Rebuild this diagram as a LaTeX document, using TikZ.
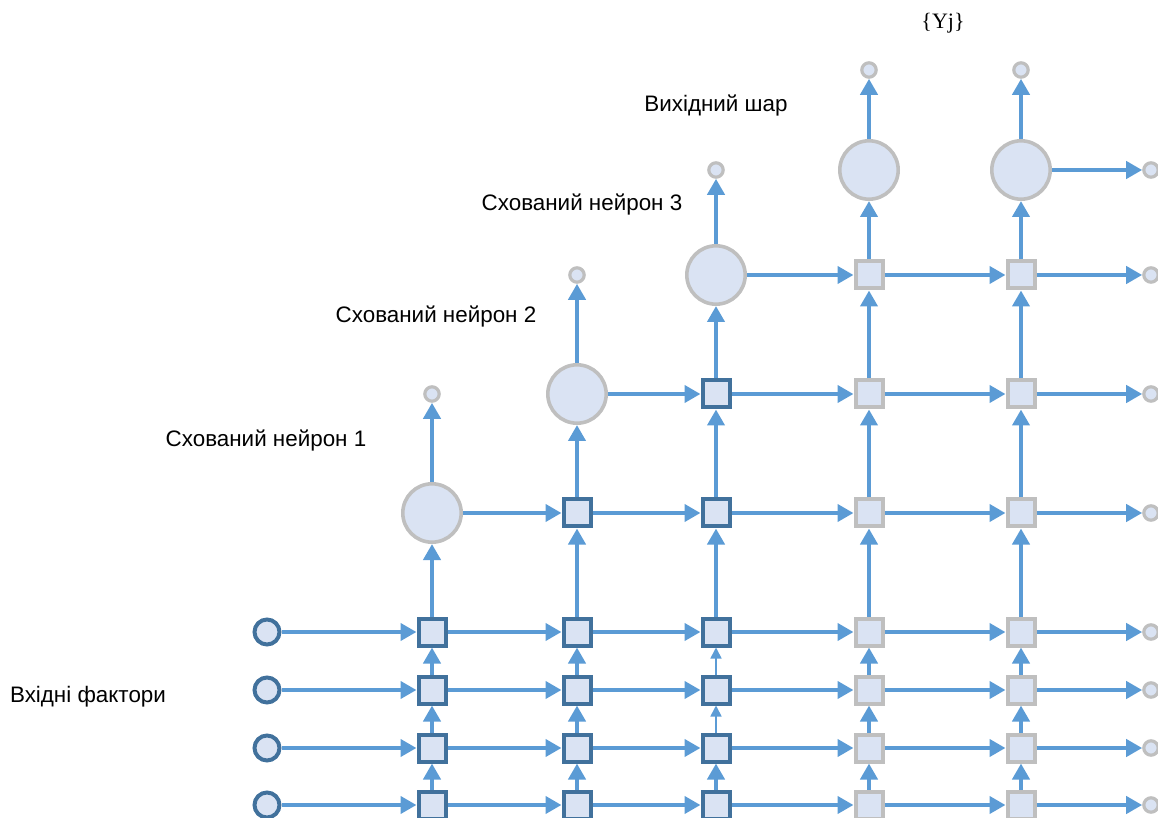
\documentclass[tikz,border=0pt]{standalone}
\usepackage{fontspec}
\setmainfont{Liberation Sans}
\newfontfamily\serifyj{Liberation Serif}
\usetikzlibrary{arrows.meta}
\definecolor{linkblue}{RGB}{91,155,213}
\definecolor{cellfill}{RGB}{218,227,243}
\definecolor{darkedge}{RGB}{65,113,156}
\definecolor{grayedge}{RGB}{191,191,191}
\tikzset{
  link/.style={-{Triangle[length=8pt,width=8.5pt]}, line width=2.2pt, draw=linkblue},
  thinlink/.style={-{Triangle[length=5.5pt,width=5.5pt]}, line width=0.8pt, draw=linkblue},
  inputnode/.style={circle, draw=darkedge, line width=2pt, fill=cellfill, minimum size=12.5pt, inner sep=0pt},
  neuron/.style={circle, draw=grayedge, line width=1.8pt, fill=cellfill, minimum size=29.2pt, inner sep=0pt},
  outpin/.style={circle, draw=grayedge, line width=1.6pt, fill=cellfill, minimum size=7.2pt, inner sep=0pt},
  activecell/.style={rectangle, draw=darkedge, line width=2pt, fill=cellfill, minimum size=13.5pt, inner sep=0pt},
  passivecell/.style={rectangle, draw=grayedge, line width=2pt, fill=cellfill, minimum size=13.5pt, inner sep=0pt},
  caption/.style={font=\fontsize{11.2}{13}\selectfont}
}
\begin{document}
\begin{tikzpicture}[x=0.5pt, y=-0.5pt]
\useasboundingbox (0,0) rectangle (1158,818);

% input rows
\foreach \r/\y in {1/632, 2/690, 3/748, 4/805} {
  \node[inputnode] (in\r) at (267,\y) {};
  \node[activecell] (c1-\r) at (432,\y) {};
  \node[activecell] (c2-\r) at (577,\y) {};
  \node[activecell] (c3-\r) at (716,\y) {};
  \node[passivecell] (c4-\r) at (869,\y) {};
  \node[passivecell] (c5-\r) at (1021,\y) {};
  \node[outpin] (e-\r) at (1151,\y) {};
}

% hidden and output rows
\node[neuron] (h1) at (432,513) {};
\node[activecell] (c2-h1) at (577,513) {};
\node[activecell] (c3-h1) at (716,513) {};
\node[passivecell] (c4-h1) at (869,513) {};
\node[passivecell] (c5-h1) at (1021,513) {};
\node[outpin] (e-h1) at (1151,513) {};

\node[neuron] (h2) at (577,394) {};
\node[activecell] (c3-h2) at (716,394) {};
\node[passivecell] (c4-h2) at (869,394) {};
\node[passivecell] (c5-h2) at (1021,394) {};
\node[outpin] (e-h2) at (1151,394) {};

\node[neuron] (h3) at (716,275) {};
\node[passivecell] (c4-h3) at (869,275) {};
\node[passivecell] (c5-h3) at (1021,275) {};
\node[outpin] (e-h3) at (1151,275) {};

\node[neuron] (o1) at (869,170) {};
\node[neuron] (o2) at (1021,170) {};
\node[outpin] (e-o) at (1151,170) {};

\node[outpin] (p1) at (432,394) {};
\node[outpin] (p2) at (577,275) {};
\node[outpin] (p3) at (716,170) {};
\node[outpin] (p4) at (869,70) {};
\node[outpin] (p5) at (1021,70) {};

% labels
\node[caption] (lin) at (88,697) {Вхідні фактори};
\node[caption] (lh1) at (266,441) {Схований нейрон 1};
\node[caption] (lh2) at (436,317) {Схований нейрон 2};
\node[caption] (lh3) at (582,205) {Схований нейрон 3};
\node[caption] (lout) at (716,106) {Вихідний шар};
\node[font=\serifyj\fontsize{11}{12}\selectfont] (lyj) at (943,23) {\{Yj\}};

% horizontal links
\foreach \r in {1,...,4} {
  \draw[link] (in\r) -- (c1-\r);
  \foreach \a/\b in {1/2, 2/3, 3/4, 4/5}
    \draw[link] (c\a-\r) -- (c\b-\r);
  \draw[link] (c5-\r) -- (e-\r);
}
\foreach \a/\b in {h1/c2-h1, c2-h1/c3-h1, c3-h1/c4-h1, c4-h1/c5-h1, c5-h1/e-h1,
                   h2/c3-h2, c3-h2/c4-h2, c4-h2/c5-h2, c5-h2/e-h2,
                   h3/c4-h3, c4-h3/c5-h3, c5-h3/e-h3, o2/e-o}
  \draw[link] (\a) -- (\b);

% vertical links
\foreach \c in {1,2,4,5}
  \foreach \a/\b in {4/3, 3/2, 2/1}
    \draw[link] (c\c-\a) -- (c\c-\b);
\draw[link] (c3-4) -- (c3-3);
\draw[thinlink] (c3-3) -- (c3-2);
\draw[thinlink] (c3-2) -- (c3-1);

\foreach \a/\b in {c1-1/h1, h1/p1,
                   c2-1/c2-h1, c2-h1/h2, h2/p2,
                   c3-1/c3-h1, c3-h1/c3-h2, c3-h2/h3, h3/p3,
                   c4-1/c4-h1, c4-h1/c4-h2, c4-h2/c4-h3, c4-h3/o1, o1/p4,
                   c5-1/c5-h1, c5-h1/c5-h2, c5-h2/c5-h3, c5-h3/o2, o2/p5}
  \draw[link] (\a) -- (\b);
\end{tikzpicture}
\end{document}
